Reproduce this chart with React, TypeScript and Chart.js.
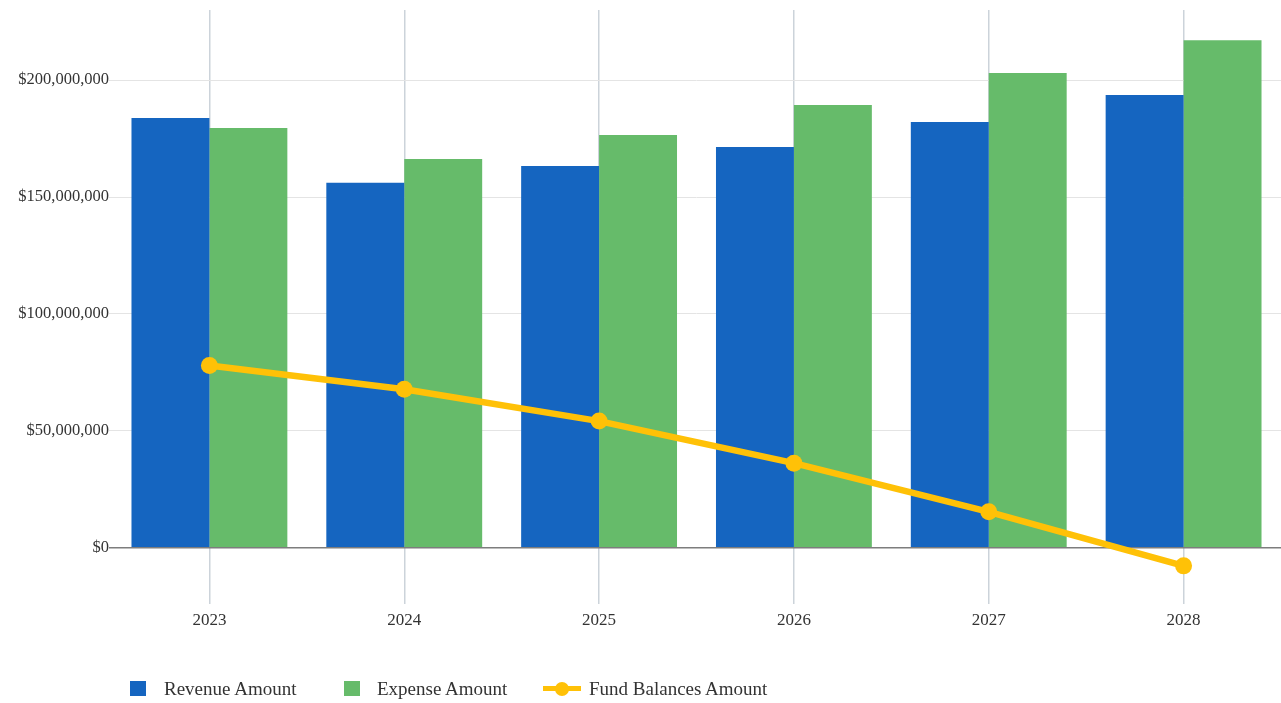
import React, { useEffect, useRef } from "react";
import { Chart, registerables } from "chart.js";

Chart.register(...registerables);

const categories = ["2023", "2024", "2025", "2026", "2027", "2028"];
const revenueAmount = [183800000, 156100000, 163300000, 171400000, 182100000, 193600000];
const expenseAmount = [179500000, 166300000, 176500000, 189300000, 203000000, 217000000];
const fundBalancesAmount = [78000000, 67800000, 54200000, 36200000, 15400000, -7700000];
const yTickValues = [0, 50000000, 100000000, 150000000, 200000000];
const legendLabels = ["Revenue Amount", "Expense Amount", "Fund Balances Amount"];

const BLUE = "#1565C0";
const GREEN = "#66BB6A";
const YELLOW = "#FFC107";
const FONT = "'Liberation Serif', 'Times New Roman', serif";

const fmt = (v: number) =>
  (v < 0 ? "-$" : "$") + Math.abs(v).toLocaleString("en-US");

export default function App() {
  const ref = useRef<HTMLCanvasElement | null>(null);

  useEffect(() => {
    if (!ref.current) return;
    const chart = new Chart(ref.current, {
      type: "bar",
      data: {
        labels: categories,
        datasets: [
          {
            type: "line",
            label: legendLabels[2],
            data: fundBalancesAmount,
            borderColor: YELLOW,
            backgroundColor: YELLOW,
            borderWidth: 6.5,
            pointRadius: 8.5,
            pointBorderWidth: 0,
            pointBackgroundColor: YELLOW,
            tension: 0,
            order: 0,
          } as any,
          {
            type: "bar",
            label: legendLabels[0],
            data: revenueAmount,
            backgroundColor: BLUE,
            borderWidth: 0,
            categoryPercentage: 0.8,
            barPercentage: 1,
            order: 1,
          },
          {
            type: "bar",
            label: legendLabels[1],
            data: expenseAmount,
            backgroundColor: GREEN,
            borderWidth: 0,
            categoryPercentage: 0.8,
            barPercentage: 1,
            order: 2,
          },
        ],
      },
      options: {
        animation: false,
        responsive: true,
        maintainAspectRatio: false,
        layout: { autoPadding: false, padding: { top: 9, right: 0, bottom: 59, left: 0 } },
        plugins: {
          legend: { display: false },
          tooltip: { enabled: false },
        },
        scales: {
          x: {
            offset: true,
            grid: {
              offset: false,
              color: "#ccd3da",
              lineWidth: 1.5,
              drawTicks: false,
            },
            border: { display: false },
            ticks: {
              padding: 6,
              color: "#333",
              font: { family: FONT, size: 17 },
            },
            afterFit: (scale: any) => {
              scale.height = 40;
            },
          },
          y: {
            min: -24000000,
            max: 230000000,
            afterBuildTicks: (scale: any) => {
              scale.ticks = yTickValues.map((v) => ({ value: v }));
            },
            afterFit: (scale: any) => {
              scale.width = 112;
            },
            grid: {
              color: (ctx: any) =>
                ctx.tick && ctx.tick.value === 0 ? "#7d7d7d" : "#e4e4e4",
              lineWidth: (ctx: any) => (ctx.tick && ctx.tick.value === 0 ? 1.5 : 1),
              drawTicks: true,
              tickLength: 3,
            },
            border: { display: false },
            ticks: {
              padding: 0,
              color: "#333",
              font: { family: FONT, size: 16.5 },
              callback: (v: any) => fmt(Number(v)),
            },
          },
        },
      },
    });
    return () => chart.destroy();
  }, []);

  const textStyle: React.CSSProperties = {
    position: "absolute",
    top: 677,
    fontFamily: FONT,
    fontSize: 19,
    lineHeight: "24px",
    color: "#333",
    whiteSpace: "nowrap",
  };

  return (
    <div
      style={{
        position: "fixed",
        left: 0,
        top: 0,
        width: 1281,
        height: 703,
        background: "#fff",
        overflow: "hidden",
      }}
    >
      <canvas ref={ref} style={{ position: "absolute", left: 0, top: 0, width: 1281, height: 703 }} />
      <div style={{ position: "absolute", left: 130, top: 681, width: 16, height: 15, background: BLUE }} />
      <span style={{ ...textStyle, left: 164 }}>{legendLabels[0]}</span>
      <div style={{ position: "absolute", left: 344, top: 681, width: 16, height: 15, background: GREEN }} />
      <span style={{ ...textStyle, left: 377 }}>{legendLabels[1]}</span>
      <div style={{ position: "absolute", left: 543, top: 686, width: 38, height: 5, background: YELLOW }} />
      <div
        style={{
          position: "absolute",
          left: 555,
          top: 682,
          width: 14,
          height: 14,
          borderRadius: "50%",
          background: YELLOW,
        }}
      />
      <span style={{ ...textStyle, left: 589 }}>{legendLabels[2]}</span>
    </div>
  );
}
